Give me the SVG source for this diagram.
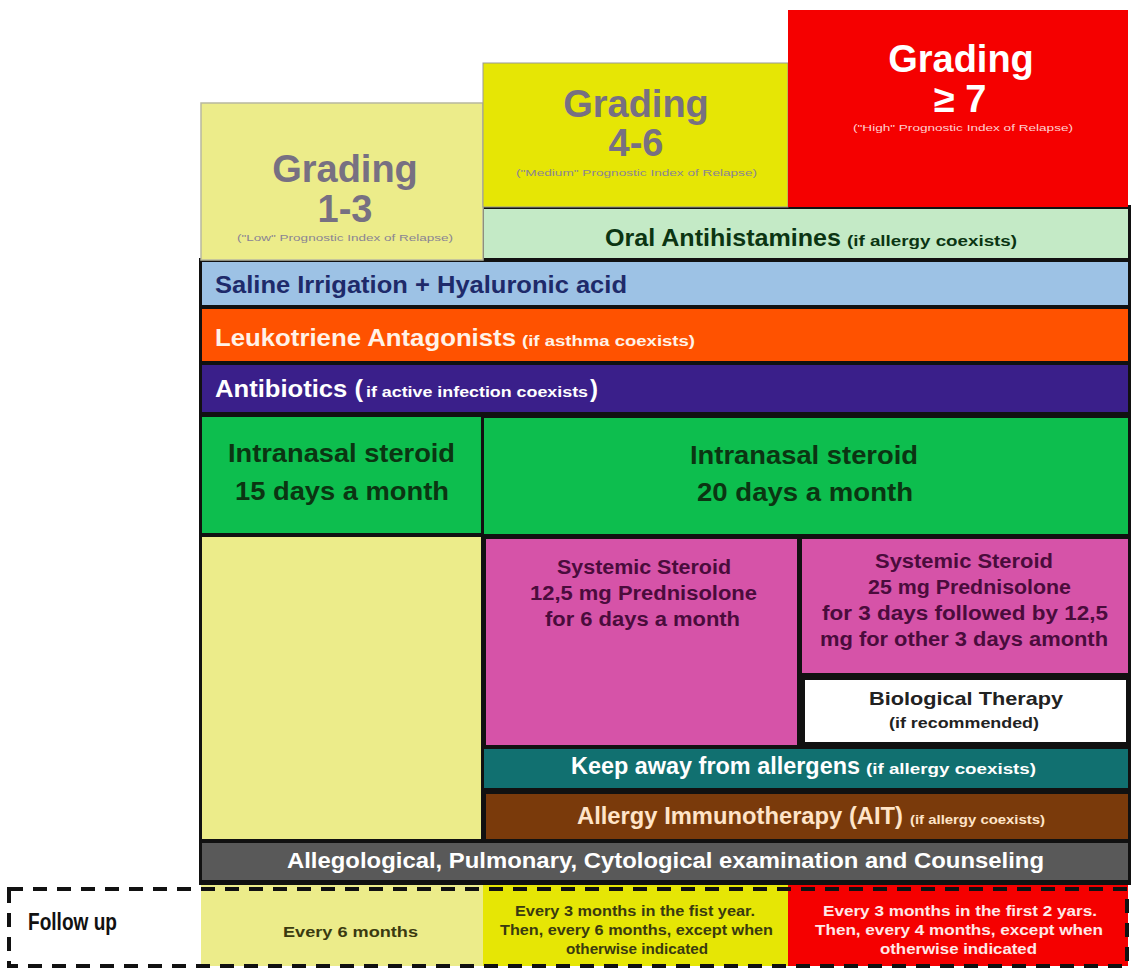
<svg xmlns="http://www.w3.org/2000/svg" width="1131" height="969" viewBox="0 0 1131 969">
<style>
text{font-family:"Liberation Sans",Arial,sans-serif;font-weight:bold;text-anchor:start}
.gr{fill:#777082;font-size:38px;text-anchor:middle}
.sub{font-size:9px;fill:#8a8494;font-weight:normal}
.w{fill:#ffffff}
.dg{fill:#0b3512}
.mg{fill:#4a0c3c}
</style>
<rect x="0" y="0" width="1131" height="969" fill="#ffffff"/>
<!-- black backing -->
<rect x="481" y="205" width="650" height="57" fill="#111"/>
<rect x="199" y="258" width="932" height="627" fill="#111"/>

<g id="grade13">
<rect x="201" y="103" width="282" height="157" fill="#ECEC8A" stroke="#b8b8a0" stroke-width="1.5"/>
<text class="gr" x="345" y="182">Grading</text>
<text class="gr" x="345" y="222">1-3</text>
<text class="sub" x="237" y="241" textLength="216" lengthAdjust="spacingAndGlyphs">("Low" Prognostic Index of Relapse)</text>
</g>
<g id="grade46">
<rect x="483" y="63" width="305" height="144" fill="#E6E605" stroke="#999" stroke-width="1"/>
<text class="gr" x="636" y="117">Grading</text>
<text class="gr" x="636" y="156">4-6</text>
<text class="sub" x="516" y="176" textLength="241" lengthAdjust="spacingAndGlyphs">("Medium" Prognostic Index of Relapse)</text>
</g>
<g id="grade7">
<rect x="788" y="10" width="340" height="197" fill="#F50000"/>
<text class="gr w" x="961" y="72">Grading</text>
<text class="gr w" x="960" y="112">≥ 7</text>
<text class="sub" style="fill:#ffd0d0" x="853" y="131" textLength="220" lengthAdjust="spacingAndGlyphs">("High" Prognostic Index of Relapse)</text>
</g>
<g id="oral">
<rect x="484" y="209" width="644" height="49" fill="#C4EAC6"/>
<text class="dg" x="605" y="246" font-size="24" textLength="236" lengthAdjust="spacingAndGlyphs">Oral Antihistamines</text>
<text class="dg" x="847" y="246" font-size="14" textLength="170" lengthAdjust="spacingAndGlyphs">(if allergy coexists)</text>
</g>
<g id="saline">
<rect x="202" y="262" width="926" height="43" fill="#9DC2E5"/>
<text x="215" y="293" font-size="24" fill="#1E2A6A" textLength="412" lengthAdjust="spacingAndGlyphs">Saline Irrigation + Hyaluronic acid</text>
</g>
<g id="leuko">
<rect x="202" y="309" width="926" height="52" fill="#FF5200"/>
<text x="215" y="346" font-size="24" fill="#fff2e8" textLength="301" lengthAdjust="spacingAndGlyphs">Leukotriene Antagonists</text>
<text x="522" y="346" font-size="14" fill="#fff2e8" textLength="173" lengthAdjust="spacingAndGlyphs">(if asthma coexists)</text>
</g>
<g id="antibio">
<rect x="202" y="365" width="926" height="47" fill="#3A1F8A"/>
<text class="w" x="215" y="397" font-size="24" textLength="148" lengthAdjust="spacingAndGlyphs">Antibiotics (</text>
<text class="w" x="366" y="397" font-size="14" textLength="222" lengthAdjust="spacingAndGlyphs">if active infection coexists</text>
<text class="w" x="590" y="397" font-size="24">)</text>
</g>
<g id="intranasal15">
<rect x="202" y="417" width="279" height="116" fill="#0DBE4E"/>
<text class="dg" x="228" y="462" font-size="26" textLength="227" lengthAdjust="spacingAndGlyphs">Intranasal steroid</text>
<text class="dg" x="235" y="500" font-size="26" textLength="214" lengthAdjust="spacingAndGlyphs">15 days a month</text>
</g>
<g id="intranasal20">
<rect x="484" y="418" width="644" height="116" fill="#0DBE4E"/>
<text class="dg" x="690" y="464" font-size="26" textLength="228" lengthAdjust="spacingAndGlyphs">Intranasal steroid</text>
<text class="dg" x="697" y="501" font-size="26" textLength="216" lengthAdjust="spacingAndGlyphs">20 days a month</text>
</g>
<g id="col1body">
<rect x="202" y="537" width="279" height="302" fill="#ECEC8A"/>
</g>
<g id="sys125">
<rect x="486" y="539" width="311" height="206" fill="#D653A8"/>
<text class="mg" x="557" y="574" font-size="20" textLength="174" lengthAdjust="spacingAndGlyphs">Systemic Steroid</text>
<text class="mg" x="530" y="600" font-size="20" textLength="227" lengthAdjust="spacingAndGlyphs">12,5 mg Prednisolone</text>
<text class="mg" x="545" y="626" font-size="20" textLength="195" lengthAdjust="spacingAndGlyphs">for 6 days a month</text>
</g>
<g id="sys25">
<rect x="802" y="539" width="326" height="134" fill="#D653A8"/>
<text class="mg" x="875" y="568" font-size="20" textLength="178" lengthAdjust="spacingAndGlyphs">Systemic Steroid</text>
<text class="mg" x="868" y="594" font-size="20" textLength="203" lengthAdjust="spacingAndGlyphs">25 mg  Prednisolone</text>
<text class="mg" x="822" y="620" font-size="20" textLength="286" lengthAdjust="spacingAndGlyphs">for 3 days followed by 12,5</text>
<text class="mg" x="820" y="646" font-size="20" textLength="288" lengthAdjust="spacingAndGlyphs">mg for other 3 days amonth</text>
</g>
<g id="bio">
<rect x="805" y="680" width="321" height="62" fill="#ffffff"/>
<text x="869" y="705" font-size="19" fill="#222" textLength="194" lengthAdjust="spacingAndGlyphs">Biological Therapy</text>
<text x="889" y="728" font-size="15" fill="#222" textLength="150" lengthAdjust="spacingAndGlyphs">(if recommended)</text>
</g>
<g id="keepaway">
<rect x="484" y="749" width="644" height="39" fill="#117070"/>
<text class="w" x="571" y="774" font-size="23" textLength="289" lengthAdjust="spacingAndGlyphs">Keep away from allergens</text>
<text class="w" x="866" y="774" font-size="14" textLength="170" lengthAdjust="spacingAndGlyphs">(if allergy coexists)</text>
</g>
<g id="ait">
<rect x="486" y="794" width="642" height="45" fill="#7A3A0B"/>
<text x="577" y="824" font-size="23" fill="#FFE4C8" textLength="326" lengthAdjust="spacingAndGlyphs">Allergy Immunotherapy (AIT)</text>
<text x="910" y="824" font-size="12" fill="#FFE4C8" textLength="135" lengthAdjust="spacingAndGlyphs">(if allergy coexists)</text>
</g>
<g id="exam">
<rect x="202" y="843" width="926" height="37" fill="#595959"/>
<text class="w" x="287" y="868" font-size="22" textLength="757" lengthAdjust="spacingAndGlyphs">Allegological, Pulmonary, Cytological examination and Counseling</text>
</g>
<g id="followup">
<rect x="201" y="885" width="282" height="81" fill="#ECEC8A"/>
<rect x="483" y="885" width="305" height="81" fill="#E6E605"/>
<rect x="788" y="885" width="340" height="81" fill="#F50000"/>
<text x="28" y="930" font-size="23" fill="#111" textLength="89" lengthAdjust="spacingAndGlyphs">Follow up</text>
<text x="283" y="937" font-size="15" fill="#3a3a10" textLength="135" lengthAdjust="spacingAndGlyphs">Every 6 months</text>
<text x="515" y="916" font-size="14" fill="#3a3a10" textLength="240" lengthAdjust="spacingAndGlyphs">Every 3 months in the fist year.</text>
<text x="500" y="935" font-size="14" fill="#3a3a10" textLength="273" lengthAdjust="spacingAndGlyphs">Then, every 6 months, except when</text>
<text x="566" y="954" font-size="14" fill="#3a3a10" textLength="142" lengthAdjust="spacingAndGlyphs">otherwise indicated</text>
<text x="823" y="916" font-size="14" fill="#ffe8e8" textLength="274" lengthAdjust="spacingAndGlyphs">Every 3 months in the first 2 yars.</text>
<text x="815" y="935" font-size="14" fill="#ffe8e8" textLength="288" lengthAdjust="spacingAndGlyphs">Then, every  4 months, except when</text>
<text x="880" y="954" font-size="14" fill="#ffe8e8" textLength="157" lengthAdjust="spacingAndGlyphs">otherwise indicated</text>
<rect x="9" y="889" width="1118" height="77" fill="none" stroke="#111" stroke-width="4" stroke-dasharray="14 10"/>
</g>
<g id="connectors"></g>
</svg>
